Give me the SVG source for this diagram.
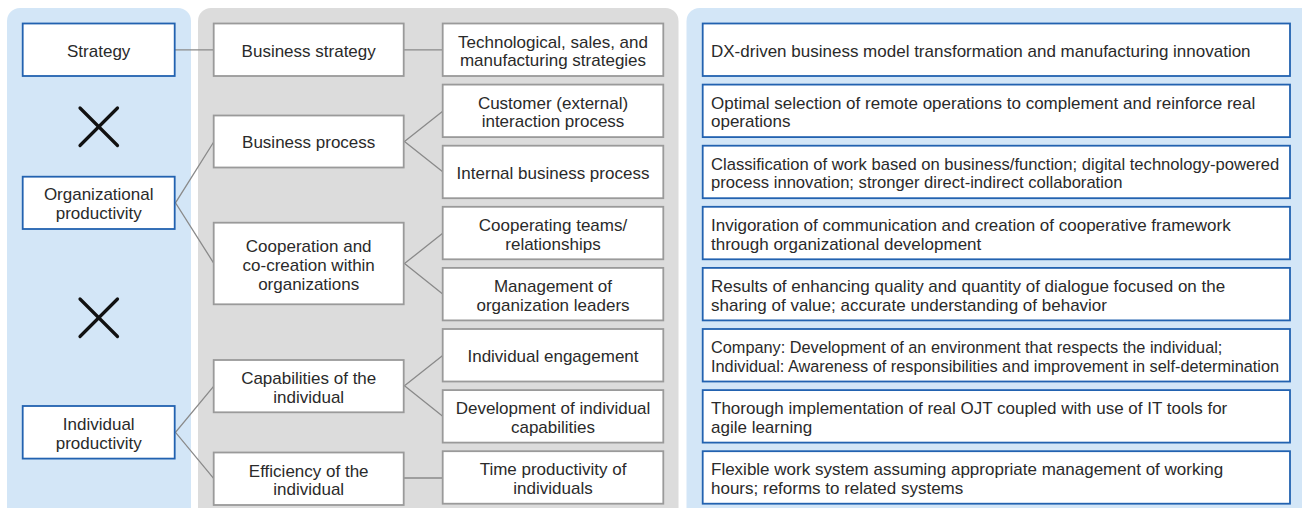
<svg xmlns="http://www.w3.org/2000/svg" width="1302" height="508" viewBox="0 0 1302 508">
<style>
text{font-family:"Liberation Sans",Arial,sans-serif;font-size:17px;fill:#2a2a2a}
.c{text-anchor:middle}
.bb{fill:#fff;stroke:#2262b0;stroke-width:1.8}
.gb{fill:#fff;stroke:#9a9a9a;stroke-width:1.8}
.ln{stroke:#8a8a8a;stroke-width:1.3;fill:none}
.x{stroke:#111;stroke-width:3.2;stroke-linecap:round}
.sm{font-size:16.3px}
.md{font-size:16.6px}
</style>
<rect x="7" y="8" width="184" height="520" rx="13" fill="#d3e6f7"/>
<rect x="198" y="8" width="480.5" height="520" rx="13" fill="#dcdcdc"/>
<rect x="686.5" y="8" width="628" height="520" rx="13" fill="#d3e6f7"/>

<g id="connectors">
<line class="ln" x1="175" y1="49.8" x2="214" y2="49.8"/>
<line class="ln" x1="404" y1="49.8" x2="443" y2="49.8"/>
<polyline class="ln" points="214,141.5 175.5,202.8 214,263.6"/>
<polyline class="ln" points="214,385.8 175.5,432.3 214,478.8"/>
<polyline class="ln" points="443,110.9 404.5,141.5 443,172"/>
<polyline class="ln" points="443,233 404.5,263.6 443,294.2"/>
<polyline class="ln" points="443,355.3 404.5,385.8 443,416.4"/>
<line class="ln" x1="404" y1="478" x2="443" y2="478"/>
</g>

<g id="marks">
<line class="x" x1="80" y1="108" x2="117.5" y2="145.5"/>
<line class="x" x1="117.5" y1="108" x2="80" y2="145.5"/>
<line class="x" x1="80" y1="299" x2="117.5" y2="336.5"/>
<line class="x" x1="117.5" y1="299" x2="80" y2="336.5"/>
</g>

<g id="n-strategy"><rect class="bb" x="22.7" y="23.5" width="152" height="52.5"/><text class="c" x="98.7" y="56.8">Strategy</text></g>
<g id="n-org"><rect class="bb" x="22.7" y="176.7" width="152" height="52.3"/><text class="c" x="98.7" y="200.3">Organizational</text><text class="c" x="98.7" y="219">productivity</text></g>
<g id="n-ind"><rect class="bb" x="22.7" y="406" width="152" height="52.6"/><text class="c" x="98.7" y="429.8">Individual</text><text class="c" x="98.7" y="448.5">productivity</text></g>

<g id="n-bstrat"><rect class="gb" x="213.7" y="23.5" width="190" height="52.5"/><text class="c" x="308.7" y="56.8">Business strategy</text></g>
<g id="n-bproc"><rect class="gb" x="213.7" y="115.5" width="190" height="52"/><text class="c" x="308.7" y="148.4">Business process</text></g>
<g id="n-coop"><rect class="gb" x="213.7" y="222.7" width="190" height="81.6"/><text class="c" x="308.7" y="251.6">Cooperation and</text><text class="c" x="308.7" y="270.6">co-creation within</text><text class="c" x="308.7" y="289.6">organizations</text></g>
<g id="n-cap"><rect class="gb" x="213.7" y="360" width="190" height="52.3"/><text class="c" x="308.7" y="383.8">Capabilities of the</text><text class="c" x="308.7" y="402.5">individual</text></g>
<g id="n-eff"><rect class="gb" x="213.7" y="452.5" width="190" height="52.5"/><text class="c" x="308.7" y="476.5">Efficiency of the</text><text class="c" x="308.7" y="495.2">individual</text></g>

<g id="n-tech"><rect class="gb" x="442.7" y="23.5" width="220.6" height="52.5"/><text class="c" x="553" y="47.5">Technological, sales, and</text><text class="c" x="553" y="66.2">manufacturing strategies</text></g>
<g id="n-cust"><rect class="gb" x="442.7" y="84.6" width="220.6" height="52.5"/><text class="c" x="553" y="108.6">Customer (external)</text><text class="c" x="553" y="127.3">interaction process</text></g>
<g id="n-int"><rect class="gb" x="442.7" y="145.7" width="220.6" height="52.5"/><text class="c" x="553" y="179">Internal business process</text></g>
<g id="n-teams"><rect class="gb" x="442.7" y="206.8" width="220.6" height="52.5"/><text class="c" x="553" y="230.8">Cooperating teams/</text><text class="c" x="553" y="249.5">relationships</text></g>
<g id="n-mgmt"><rect class="gb" x="442.7" y="267.9" width="220.6" height="52.5"/><text class="c" x="553" y="291.9">Management of</text><text class="c" x="553" y="310.6">organization leaders</text></g>
<g id="n-eng"><rect class="gb" x="442.7" y="329" width="220.6" height="52.5"/><text class="c" x="553" y="362.3">Individual engagement</text></g>
<g id="n-dev"><rect class="gb" x="442.7" y="390.1" width="220.6" height="52.5"/><text class="c" x="553" y="414.1">Development of individual</text><text class="c" x="553" y="432.8">capabilities</text></g>
<g id="n-time"><rect class="gb" x="442.7" y="451.2" width="220.6" height="52.5"/><text class="c" x="553" y="475.2">Time productivity of</text><text class="c" x="553" y="493.9">individuals</text></g>

<g id="r1"><rect class="bb" x="702.7" y="23.5" width="587.3" height="52.5"/><text x="711" y="56.5">DX-driven business model transformation and manufacturing innovation</text></g>
<g id="r2"><rect class="bb" x="702.7" y="84.6" width="587.3" height="52.5"/><text x="711" y="108.6">Optimal selection of remote operations to complement and reinforce real</text><text x="711" y="127.3">operations</text></g>
<g id="r3"><rect class="bb" x="702.7" y="145.7" width="587.3" height="52.5"/><text class="md" x="711" y="169.7">Classification of work based on business/function; digital technology-powered</text><text class="md" x="711" y="188.4">process innovation; stronger direct-indirect collaboration</text></g>
<g id="r4"><rect class="bb" x="702.7" y="206.8" width="587.3" height="52.5"/><text x="711" y="230.8">Invigoration of communication and creation of cooperative framework</text><text x="711" y="249.5">through organizational development</text></g>
<g id="r5"><rect class="bb" x="702.7" y="267.9" width="587.3" height="52.5"/><text x="711" y="291.9">Results of enhancing quality and quantity of dialogue focused on the</text><text x="711" y="310.6">sharing of value; accurate understanding of behavior</text></g>
<g id="r6"><rect class="bb" x="702.7" y="329" width="587.3" height="52.5"/><text class="sm" x="711" y="353">Company: Development of an environment that respects the individual;</text><text class="sm" x="711" y="371.7">Individual: Awareness of responsibilities and improvement in self-determination</text></g>
<g id="r7"><rect class="bb" x="702.7" y="390.1" width="587.3" height="52.5"/><text x="711" y="414.1">Thorough implementation of real OJT coupled with use of IT tools for</text><text x="711" y="432.8">agile learning</text></g>
<g id="r8"><rect class="bb" x="702.7" y="451.2" width="587.3" height="52.5"/><text x="711" y="475.2">Flexible work system assuming appropriate management of working</text><text x="711" y="493.9">hours; reforms to related systems</text></g>
</svg>
